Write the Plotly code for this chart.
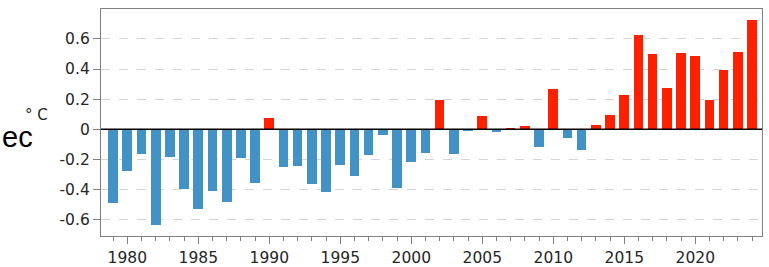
import plotly.graph_objects as go

years = list(range(1979, 2025))
anomaly = [
    -0.49, -0.28, -0.165, -0.635, -0.187, -0.395, -0.53, -0.413, -0.481, -0.193,
    -0.358, 0.072, -0.252, -0.244, -0.363, -0.418, -0.235, -0.31, -0.171, -0.035,
    -0.391, -0.22, -0.16, 0.193, -0.167, -0.013, 0.09, -0.015, 0.005, 0.02,
    -0.12, 0.27, -0.057, -0.138, 0.026, 0.092, 0.229, 0.626, 0.501, 0.275,
    0.508, 0.488, 0.193, 0.396, 0.512, 0.727,
]
y_ticks = [-0.6, -0.4, -0.2, 0, 0.2, 0.4, 0.6]
y_ticktext = ["-0.6", "-0.4", "-0.2", "0", "0.2", "0.4", "0.6"]
x_ticks = [1980, 1985, 1990, 1995, 2000, 2005, 2010, 2015, 2020]

colors = ["#ff2000" if v > 0 else "#4292c6" for v in anomaly]

fig = go.Figure()
fig.add_trace(go.Bar(
    x=years, y=anomaly, width=0.68,
    marker=dict(color=colors, line=dict(width=0)),
    hoverinfo="x+y",
))

tickfont = dict(family="DejaVu Sans", size=15.5, color="#262626")
fig.update_layout(
    width=769, height=267,
    margin=dict(l=101, r=7, t=9, b=31, autoexpand=False),
    paper_bgcolor="white", plot_bgcolor="white",
    showlegend=False,
    bargap=0,
    xaxis=dict(
        range=[1978.15, 2024.7], automargin=False,
        tickvals=x_ticks, ticktext=[str(t) for t in x_ticks],
        ticks="outside", ticklen=7, tickwidth=1, tickcolor="#808080",
        minor=dict(dtick=1, tick0=1979, ticks="outside", ticklen=4, tickcolor="#808080", showgrid=False),
        showgrid=False, zeroline=False,
        showline=True, linecolor="#808080", linewidth=1.3, mirror=True,
        tickfont=tickfont,
    ),
    yaxis=dict(
        range=[-0.7085, 0.7985], automargin=False,
        tickvals=y_ticks, ticktext=y_ticktext,
        ticks="outside", ticklen=7, tickwidth=1, tickcolor="#808080",
        showgrid=True, gridcolor="#d4d4d4", griddash="dash", gridwidth=1,
        zeroline=False,
        showline=True, linecolor="#808080", linewidth=1.3, mirror=True,
        tickfont=tickfont,
    ),
)

# zero reference line drawn above bars
fig.add_shape(type="line", xref="paper", yref="y", x0=0, x1=1, y0=0, y1=0,
              line=dict(color="black", width=1.5), layer="above")

fig.add_annotation(x=0, y=0.0, xref="paper", yref="y", text="ec",
                   showarrow=False, xanchor="left", yanchor="middle",
                   font=dict(family="Liberation Sans", size=29, color="black"),
                   xshift=-101, yshift=-8)
fig.add_annotation(x=0, y=0.1, xref="paper", yref="y", text="° C",
                   showarrow=False, xanchor="left", yanchor="middle",
                   font=dict(family="DejaVu Sans", size=15, color="#262626"),
                   xshift=-78, yshift=-1)

fig.write_html("out.html",
               config={"displayModeBar": False},
               post_script="document.body.style.margin='0';document.body.style.overflow='hidden';")
